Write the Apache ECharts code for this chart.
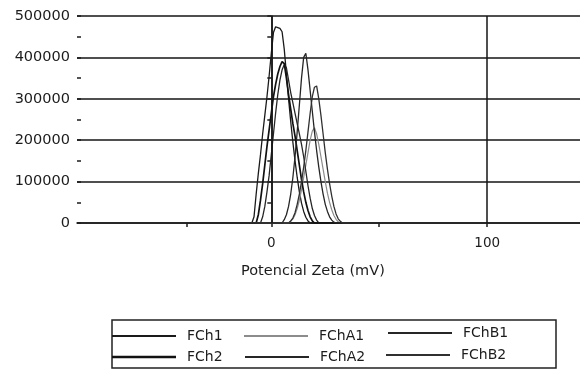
<!DOCTYPE html>
<html>
<head>
<meta charset="utf-8">
<script src="https://cdn.jsdelivr.net/npm/echarts@6/dist/echarts.min.js"></script>
<style>
  html, body { margin: 0; padding: 0; background: #fff; }
  #chart { width: 580px; height: 369px; }
</style>
</head>
<body>
<div id="chart"></div>
<script>
// Zeta potential (mV) sample points
const zeta = [-10, -9, -8, -7, -6, -5, -4, -3, -2, -1, 0, 1, 2, 3, 4, 5, 6, 7, 8, 9,
  10, 11, 12, 13, 14, 15, 16, 17, 18, 19, 20, 21, 22, 23, 24, 25, 26, 27, 28, 29,
  30, 31, 32, 33, 34, 35, 36];

// Counts per zeta value for each sample
const fch1 = [0, 0, 15000, 70000, 120000, 165000, 215000, 260000, 305000, 355000,
  410000, 460000, 474000, 472000, 470000, 462000, 420000, 360000, 300000, 245000,
  195000, 150000, 110000, 75000, 48000, 28000, 14000, 5000, 0, 0,
  0, 0, 0, 0, 0, 0, 0, 0, 0, 0, 0, 0, 0, 0, 0, 0, 0];
const fch2 = [0, 0, 0, 0, 20000, 55000, 95000, 140000, 185000, 225000,
  265000, 305000, 335000, 360000, 378000, 390000, 385000, 350000, 310000, 275000,
  240000, 210000, 175000, 140000, 105000, 75000, 50000, 30000, 15000, 5000,
  0, 0, 0, 0, 0, 0, 0, 0, 0, 0, 0, 0, 0, 0, 0, 0, 0];
const fchA1 = [0, 0, 0, 0, 0, 0, 0, 0, 0, 0,
  0, 0, 0, 0, 0, 0, 0, 0, 0, 4000,
  10000, 20000, 35000, 55000, 80000, 110000, 140000, 170000, 200000, 222000,
  230000, 215000, 190000, 160000, 130000, 100000, 72000, 50000, 32000, 18000,
  9000, 3000, 0, 0, 0, 0, 0];
const fchA2 = [0, 0, 0, 0, 0, 0, 0, 0, 0, 0,
  0, 0, 0, 0, 0, 0, 8000, 20000, 40000, 70000,
  110000, 160000, 220000, 285000, 350000, 400000, 410000, 370000, 320000, 270000,
  220000, 175000, 135000, 100000, 70000, 45000, 28000, 15000, 7000, 2000,
  0, 0, 0, 0, 0, 0, 0];
const fchB1 = [0, 0, 0, 0, 0, 0, 15000, 40000, 75000, 115000,
  165000, 215000, 265000, 310000, 345000, 370000, 382000, 375000, 345000, 315000,
  290000, 265000, 240000, 215000, 190000, 160000, 125000, 90000, 60000, 35000,
  18000, 7000, 0, 0, 0, 0, 0, 0, 0, 0, 0, 0, 0, 0, 0, 0, 0];
const fchB2 = [0, 0, 0, 0, 0, 0, 0, 0, 0, 0,
  0, 0, 0, 0, 0, 0, 0, 0, 0, 5000,
  12000, 25000, 45000, 70000, 100000, 135000, 175000, 220000, 265000, 305000,
  328000, 331000, 300000, 260000, 215000, 170000, 130000, 95000, 65000, 40000,
  22000, 10000, 4000, 0, 0, 0, 0];

// Axis ticks and labels
const xTicks = [-39, 0, 50, 100];
const xLabels = [0, 100];
const xGridLines = [0, 100];

const FONT = 'DejaVu Sans';
const INK = '#1c1c1c';

function pairs(ys) { return zeta.map((x, i) => [x, ys[i]]); }

const seriesDefs = [
  { name: 'FCh1', data: fch1, color: '#1a1a1a', width: 1.3 },
  { name: 'FChA1', data: fchA1, color: '#8c8c8c', width: 1.2 },
  { name: 'FChB1', data: fchB1, color: '#262626', width: 1.3 },
  { name: 'FCh2', data: fch2, color: '#111111', width: 1.7 },
  { name: 'FChA2', data: fchA2, color: '#262626', width: 1.3 },
  { name: 'FChB2', data: fchB2, color: '#303030', width: 1.3 }
];

const series = seriesDefs.map(s => ({
  name: s.name,
  type: 'line',
  data: pairs(s.data),
  symbol: 'none',
  smooth: false,
  animation: false,
  lineStyle: { color: s.color, width: s.width },
  itemStyle: { color: s.color },
  z: 3
}));

// Vertical grid lines at 0 and 100 mV
series[0].markLine = {
  silent: true,
  symbol: 'none',
  label: { show: false },
  lineStyle: { color: '#151515', width: 1.5, type: 'solid' },
  data: xGridLines.map(v => ({ xAxis: v }))
};

// Legend: one entry per slot, three columns by two rows
const legendSlots = [
  { name: 'FCh1', left: 112, top: 329, h: 2 },
  { name: 'FChA1', left: 244, top: 329, h: 2 },
  { name: 'FChB1', left: 388, top: 326, h: 2 },
  { name: 'FCh2', left: 112, top: 350, h: 2.5 },
  { name: 'FChA2', left: 245, top: 350, h: 2 },
  { name: 'FChB2', left: 386, top: 348, h: 2 }
];
const legends = legendSlots.map(l => ({
  data: [l.name],
  left: l.left,
  top: l.top,
  padding: 0,
  icon: 'rect',
  itemWidth: 64,
  itemHeight: l.h,
  selectedMode: false,
  textStyle: { fontFamily: FONT, fontSize: 14, color: INK, padding: [0, 0, 0, 6] }
}));

const chart = echarts.init(document.getElementById('chart'), null, { renderer: 'canvas' });
chart.setOption({
  animation: false,
  backgroundColor: '#ffffff',
  grid: { left: 77, right: 0, top: 16, bottom: 146 },
  xAxis: {
    type: 'value',
    min: -90,
    max: 143,
    axisLine: { lineStyle: { color: INK, width: 1.5 } },
    axisTick: { show: true, customValues: xTicks, length: 4, lineStyle: { color: INK, width: 1.5 } },
    axisLabel: { customValues: xLabels, fontFamily: FONT, fontSize: 13.5, color: INK, margin: 13 },
    splitLine: { show: false }
  },
  yAxis: [{
    type: 'value',
    min: 0,
    max: 500000,
    interval: 100000,
    axisLine: { show: true, lineStyle: { color: INK, width: 1.5 } },
    axisTick: { show: true, length: 4, lineStyle: { color: INK, width: 1.5 } },
    minorTick: { show: true, splitNumber: 2, length: 4, lineStyle: { color: INK, width: 1.5 } },
    axisLabel: { fontFamily: FONT, fontSize: 14.5, color: INK, margin: 7, formatter: v => String(v) },
    splitLine: { show: true, lineStyle: { color: '#151515', width: 1.5 } }
  }, {
    // inner half of the crossing ticks
    type: 'value',
    position: 'left',
    min: 0,
    max: 500000,
    interval: 100000,
    axisLine: { show: false },
    axisTick: { show: true, inside: true, length: 4, lineStyle: { color: INK, width: 1.5 } },
    minorTick: { show: true, splitNumber: 2, length: 4, lineStyle: { color: INK, width: 1.5 } },
    axisLabel: { show: false },
    splitLine: { show: false }
  }],
  legend: legends,
  graphic: [
    {
      type: 'text',
      left: 241,
      top: 264,
      style: { text: 'Potencial Zeta (mV)', fontFamily: FONT, fontSize: 14.5, fill: INK }
    },
    {
      type: 'rect',
      shape: { x: 112, y: 320, width: 444, height: 48 },
      style: { fill: 'none', stroke: '#222', lineWidth: 1.5 },
      z: 1
    }
  ],
  series: series
});
</script>
</body>
</html>
